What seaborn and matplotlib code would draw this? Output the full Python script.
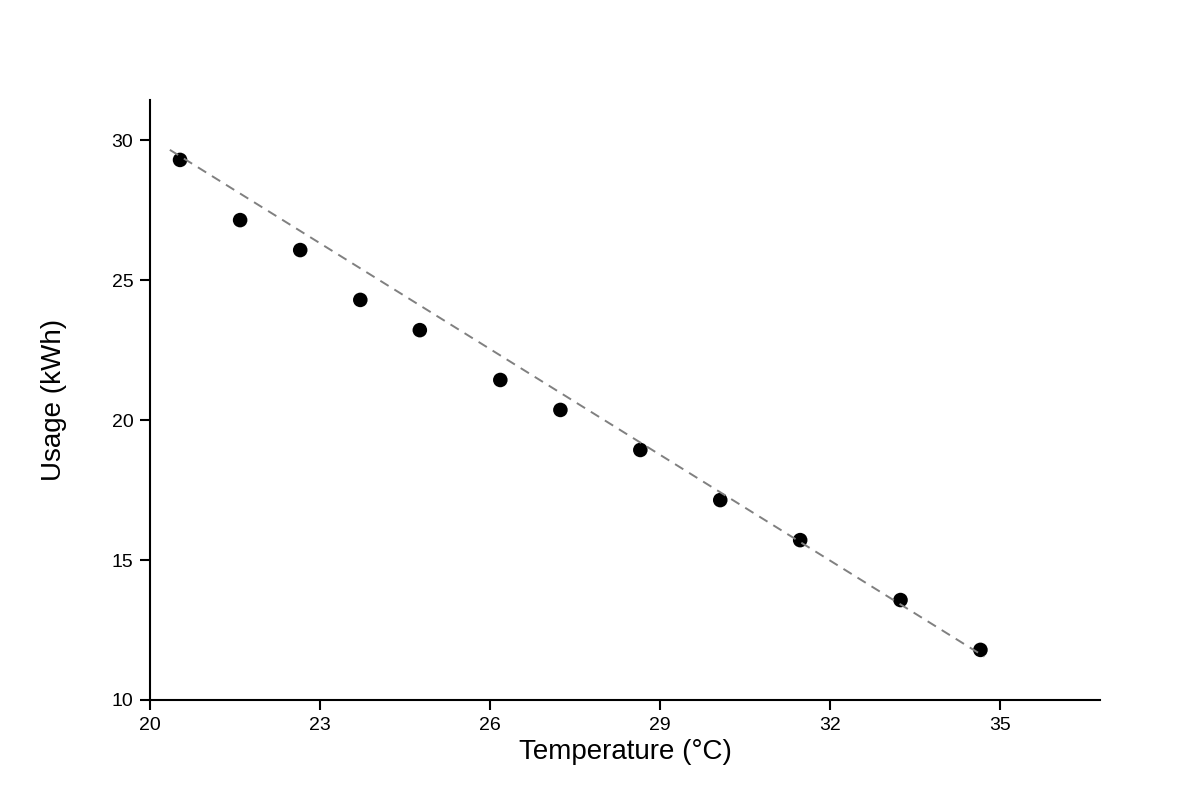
import pandas as pd
import seaborn as sns
from matplotlib import pyplot as plt

# values
temperature = [20.53, 21.59, 22.65, 23.71, 24.76, 26.18, 27.24, 28.65, 30.06, 31.47, 33.24, 34.65]
usage = [29.29, 27.14, 26.07, 24.29, 23.21, 21.43, 20.36, 18.93, 17.14, 15.71, 13.57, 11.79]
trend_x = [20.35, 34.72]
trend_y = [29.65, 11.55]
x_ticks = [20, 23, 26, 29, 32, 35]
y_ticks = [10, 15, 20, 25, 30]

df = pd.DataFrame({"temp": temperature, "usage": usage})
trend = pd.DataFrame({"temp": trend_x, "usage": trend_y})

sns.set_style("ticks")
plt.rcParams["font.family"] = ["Liberation Sans", "DejaVu Sans"]

fig = plt.figure(figsize=(12, 8), dpi=100)
ax = fig.add_axes([0.125, 0.125, 0.7917, 0.75])

sns.scatterplot(data=df, x="temp", y="usage", ax=ax, color="black", s=110,
                edgecolor="none", zorder=2)
sns.lineplot(data=trend, x="temp", y="usage", ax=ax, color="#808080",
             linewidth=1.4, dashes=False, zorder=3)
ax.lines[-1].set_dashes([5, 3.5])

ax.set_xlim(20, 36.76)
ax.set_ylim(10, 31.43)
ax.set_xticks(x_ticks)
ax.set_yticks(y_ticks)
ax.tick_params(axis="both", length=7, width=1.5, labelsize=14, color="black",
               labelcolor="black", pad=5)
for side in ["left", "bottom"]:
    ax.spines[side].set_linewidth(1.5)
    ax.spines[side].set_color("black")
sns.despine(ax=ax)

ax.set_xlabel("Temperature (°C)", fontsize=20, labelpad=4, color="black")
ax.set_ylabel("Usage (kWh)", fontsize=20, labelpad=32, color="black")

fig.savefig("out.png", dpi=100)
